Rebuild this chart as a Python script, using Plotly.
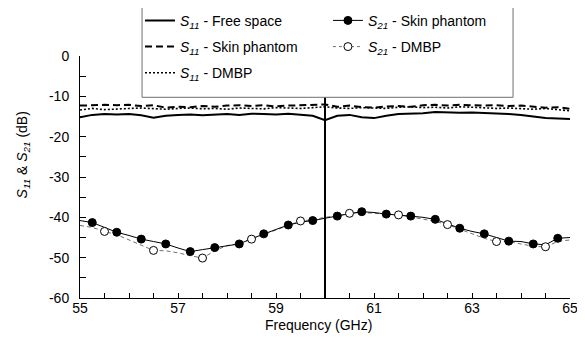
import plotly.graph_objects as go

# ---------------- data ----------------
freq = [55.0, 55.25, 55.5, 55.75, 56.0, 56.25, 56.5, 56.75, 57.0, 57.25, 57.5, 57.75,
        58.0, 58.25, 58.5, 58.75, 59.0, 59.25, 59.5, 59.75, 60.0, 60.25, 60.5, 60.75,
        61.0, 61.25, 61.5, 61.75, 62.0, 62.25, 62.5, 62.75, 63.0, 63.25, 63.5, 63.75,
        64.0, 64.25, 64.5, 64.75, 65.0]

s11_free = [-15.2, -14.6, -14.4, -14.5, -14.4, -14.7, -15.3, -14.8, -14.6, -14.5, -14.7, -14.5,
            -14.4, -14.6, -14.3, -14.4, -14.5, -14.3, -14.6, -14.8, -15.9, -14.8, -14.6, -15.2,
            -15.4, -14.8, -14.4, -14.3, -14.2, -13.9, -14.0, -14.1, -14.0, -14.1, -14.3, -14.4,
            -14.6, -15.0, -15.4, -15.5, -15.6]

s11_skin = [-12.3, -12.2, -12.1, -12.2, -12.1, -12.4, -12.2, -12.8, -12.6, -12.7, -12.4, -12.6,
            -12.3, -12.2, -12.4, -12.2, -12.5, -12.3, -12.2, -12.1, -12.0, -12.6, -12.3, -12.7,
            -12.8, -12.5, -12.4, -12.6, -12.2, -12.1, -12.3, -12.1, -12.2, -12.3, -12.2, -12.4,
            -12.3, -12.6, -12.8, -12.7, -13.1]

s11_dmbp = [-13.4, -13.0, -13.3, -13.1, -13.0, -12.9, -13.1, -13.2, -13.0, -12.9, -13.1, -13.0,
            -13.2, -12.9, -13.0, -13.1, -12.8, -12.9, -13.0, -12.8, -12.6, -12.9, -13.0, -12.8,
            -12.9, -13.0, -12.7, -12.6, -12.8, -12.7, -12.9, -12.6, -12.7, -12.8, -13.0, -12.9,
            -13.1, -13.2, -13.0, -13.3, -13.6]

s21_skin = [-40.8, -41.3, -42.5, -43.7, -44.5, -45.4, -46.0, -46.6, -47.6, -48.5, -48.0, -47.5,
            -47.0, -46.6, -45.3, -44.1, -43.0, -41.9, -41.2, -40.8, -40.2, -39.7, -39.1, -38.6,
            -38.8, -39.2, -39.4, -39.7, -40.0, -40.5, -41.6, -42.7, -43.5, -44.1, -45.0, -45.9,
            -46.0, -46.6, -46.8, -45.2, -45.0]

s21_dmbp = [-42.0, -42.5, -43.5, -44.3, -45.6, -47.0, -48.2, -48.3, -48.8, -49.5, -50.1, -48.3,
            -47.0, -46.5, -45.4, -44.3, -43.2, -42.0, -40.9, -40.6, -40.0, -39.6, -39.0, -38.8,
            -39.0, -39.3, -39.4, -39.9, -40.4, -41.0, -41.8, -43.0, -44.2, -45.2, -46.0, -46.0,
            -46.6, -47.2, -47.3, -46.0, -45.6]

skin_marker_freq = [55.25, 55.75, 56.25, 56.75, 57.25, 57.75, 58.25, 58.75, 59.25, 59.75,
                    60.25, 60.75, 61.25, 61.75, 62.25, 62.75, 63.25, 63.75, 64.25, 64.75]
dmbp_marker_freq = [55.5, 56.5, 57.5, 58.5, 59.5, 60.5, 61.5, 62.5, 63.5, 64.5]

marker_freq_line = 60.0

x_tickvals = [55, 57, 59, 61, 63, 65]
x_ticktext = ["55", "57", "59", "61", "63", "65"]
y_tickvals = [0, -10, -20, -30, -40, -50, -60]
y_ticktext = ["0", "-10", "-20", "-30", "-40", "-50", "-60"]

names = {
    "s11_free": "<i>S</i><sub><i>11</i></sub> - Free space",
    "s11_skin": "<i>S</i><sub><i>11</i></sub> - Skin phantom",
    "s11_dmbp": "<i>S</i><sub><i>11</i></sub> - DMBP",
    "s21_skin": "<i>S</i><sub><i>21</i></sub> - Skin phantom",
    "s21_dmbp": "<i>S</i><sub><i>21</i></sub> - DMBP",
}

FONT = "Arial, Liberation Sans, sans-serif"

def pick(fs, vals, sel):
    xs, ys = [], []
    for f, v in zip(fs, vals):
        if any(abs(f - s) < 1e-6 for s in sel):
            xs.append(f)
            ys.append(v)
    return xs, ys

fig = go.Figure()

# S11 curves (also legend entries, left column)
fig.add_trace(go.Scatter(x=freq, y=s11_free, mode="lines", name=names["s11_free"],
                         line=dict(color="black", width=2), legend="legend",
                         legendgroup="a"))
fig.add_trace(go.Scatter(x=freq, y=s11_skin, mode="lines", name=names["s11_skin"],
                         line=dict(color="black", width=2, dash="7px,4px"), legend="legend",
                         legendgroup="b"))
fig.add_trace(go.Scatter(x=freq, y=s11_dmbp, mode="lines", name=names["s11_dmbp"],
                         line=dict(color="black", width=1.6, dash="2px,2px"), legend="legend",
                         legendgroup="c"))

# S21 curves
fig.add_trace(go.Scatter(x=freq, y=s21_dmbp, mode="lines", showlegend=False,
                         line=dict(color="#707070", width=1, dash="4px,3px")))
fig.add_trace(go.Scatter(x=freq, y=s21_skin, mode="lines", showlegend=False,
                         line=dict(color="black", width=1)))

mx, my = pick(freq, s21_dmbp, dmbp_marker_freq)
fig.add_trace(go.Scatter(x=mx, y=my, mode="markers", showlegend=False,
                         marker=dict(symbol="circle", size=8, color="white",
                                     line=dict(color="black", width=1))))
mx, my = pick(freq, s21_skin, skin_marker_freq)
fig.add_trace(go.Scatter(x=mx, y=my, mode="markers", showlegend=False,
                         marker=dict(symbol="circle", size=8, color="black",
                                     line=dict(color="black", width=1))))

# legend entries for S21 (right column)
fig.add_trace(go.Scatter(x=[None], y=[None], mode="lines+markers", name=names["s21_skin"],
                         line=dict(color="black", width=1),
                         marker=dict(symbol="circle", size=8, color="black",
                                     line=dict(color="black", width=1)),
                         legend="legend2", legendgroup="d"))
fig.add_trace(go.Scatter(x=[None], y=[None], mode="lines+markers", name=names["s21_dmbp"],
                         line=dict(color="#707070", width=1, dash="3px,3px"),
                         marker=dict(symbol="circle", size=8, color="white",
                                     line=dict(color="black", width=1)),
                         legend="legend2", legendgroup="e"))

# vertical line at 60 GHz
fig.add_shape(type="line", xref="x", yref="y", x0=marker_freq_line, x1=marker_freq_line,
              y0=-60, y1=0, line=dict(color="black", width=2), layer="above")
# legend box
fig.add_shape(type="rect", xref="paper", yref="paper", x0=0.1266, x1=0.8838,
              y0=0.8293, y1=1.2095, line=dict(color="#707070", width=1),
              fillcolor="white", layer="above")

legend_common = dict(orientation="v", bgcolor="rgba(0,0,0,0)", borderwidth=0,
                     font=dict(family=FONT, size=14, color="black"),
                     xanchor="left", yanchor="top", traceorder="grouped",
                     tracegroupgap=5, itemwidth=30)

# page body adds an 8 px offset, so the figure is 8 px smaller and margins shifted
fig.update_layout(
    width=577, height=335,
    margin=dict(l=72, r=15, t=48, b=45, pad=0, autoexpand=False),
    paper_bgcolor="white", plot_bgcolor="white",
    font=dict(family=FONT, size=14, color="black"),
    showlegend=True,
    legend=dict(x=0.1224, y=1.2116, **legend_common),
    legend2=dict(x=0.506, y=1.2116, **legend_common),
    xaxis=dict(range=[55, 65], tickmode="array", tickvals=x_tickvals, ticktext=x_ticktext,
               ticks="inside", ticklen=5, tickwidth=1, tickcolor="black",
               minor=dict(tickmode="linear", tick0=55, dtick=0.5, ticks="inside",
                          ticklen=5, tickwidth=1, tickcolor="black", showgrid=False),
               showline=True, linecolor="black", linewidth=1, showgrid=False,
               zeroline=False, tickfont=dict(size=14), ticklabelstandoff=-3),
    yaxis=dict(range=[-60, 0], tickmode="array", tickvals=y_tickvals, ticktext=y_ticktext,
               ticks="inside", ticklen=6, tickwidth=1, tickcolor="black",
               minor=dict(tickmode="linear", tick0=0, dtick=5, ticks="inside",
                          ticklen=6, tickwidth=1, tickcolor="black", showgrid=False),
               showline=True, linecolor="black", linewidth=1, showgrid=False,
               zeroline=False, tickfont=dict(size=14), ticklabelstandoff=7),
    annotations=[
        dict(text="Frequency (GHz)", xref="paper", yref="paper", x=0.487, y=-0.1128,
             xanchor="center", yanchor="middle", showarrow=False,
             font=dict(family=FONT, size=14, color="black")),
        dict(text="<i>S</i><sub><i>11</i></sub> & <i>S</i><sub><i>21</i></sub> (dB)",
             xref="paper", yref="paper", x=-0.116, y=0.59, textangle=-90,
             xanchor="center", yanchor="middle", showarrow=False,
             font=dict(family=FONT, size=14, color="black")),
    ],
)

fig.write_html("out.html")
